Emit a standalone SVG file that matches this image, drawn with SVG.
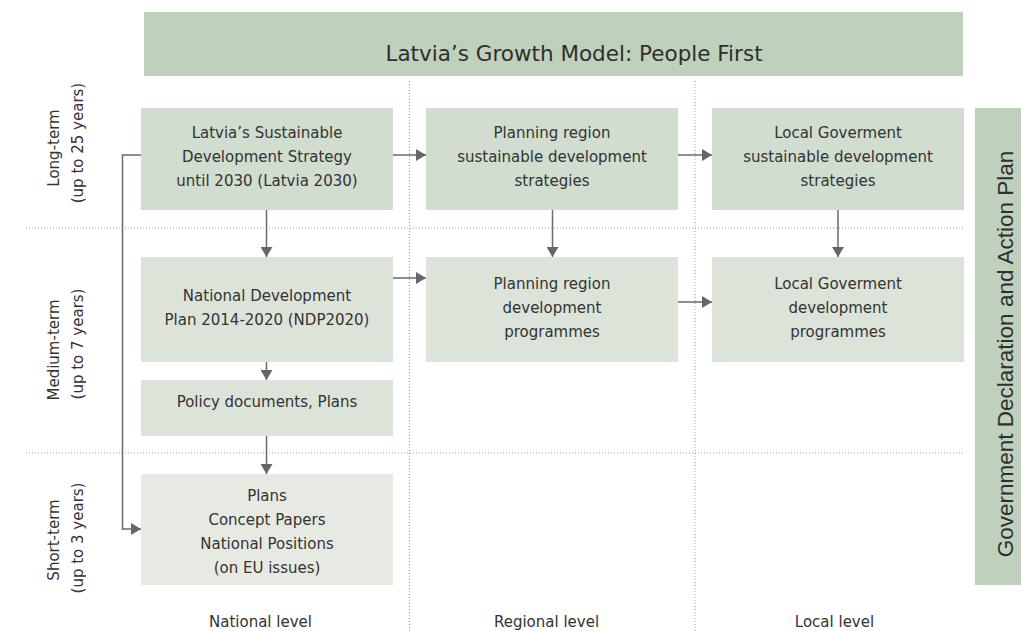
<svg xmlns="http://www.w3.org/2000/svg" width="1021" height="631" viewBox="0 0 1021 631">
<defs>
<marker id="ah" markerUnits="userSpaceOnUse" viewBox="0 0 10 12" refX="10" refY="6" markerWidth="10" markerHeight="12" orient="auto">
<path d="M0,0 L10,6 L0,12 Z" fill="#666"/>
</marker>
<style>
.t{font-family:"DejaVu Sans","Liberation Sans",sans-serif;font-size:15px;fill:#333;text-anchor:middle}
.lbl{font-family:"DejaVu Sans","Liberation Sans",sans-serif;font-size:15px;fill:#333;text-anchor:middle}
.dot{stroke:#9a9a9a;stroke-width:1;stroke-dasharray:1 2;fill:none}
.c{stroke:#6a6a6a;stroke-width:1.5;fill:none}
.ca{stroke:#6a6a6a;stroke-width:1.5;fill:none;marker-end:url(#ah)}
.long{fill:#d0ddcf}
.med{fill:#dce4da}
.short{fill:#e6eae3}
.band{fill:#bfd1bd}
</style>
</defs>
<rect width="1021" height="631" fill="#fff"/>

<g id="grid">
<line class="dot" x1="26" y1="228" x2="965" y2="228"/>
<line class="dot" x1="26" y1="453" x2="965" y2="453"/>
<line class="dot" x1="409.5" y1="81" x2="409.5" y2="631"/>
<line class="dot" x1="695" y1="81" x2="695" y2="631"/>
</g>

<g id="banner">
<rect class="band" x="144" y="12" width="819" height="64"/>
<text x="574" y="61" style="font-family:'DejaVu Sans','Liberation Sans',sans-serif;font-size:21.5px;fill:#2f2f2f;text-anchor:middle">Latvia’s Growth Model: People First</text>
</g>

<g id="gov-declaration">
<rect class="band" x="975" y="108" width="46" height="477"/>
<text transform="translate(1012.5,354) rotate(-90)" style="font-family:'Liberation Sans',Arial,sans-serif;font-size:22.5px;fill:#2f2f2f;text-anchor:middle">Government Declaration and Action Plan</text>
</g>

<g id="row-labels">
<text class="lbl" transform="translate(59,148) rotate(-90)">Long-term</text>
<text class="lbl" transform="translate(83,143) rotate(-90)">(up to 25 years)</text>
<text class="lbl" transform="translate(59,350) rotate(-90)">Medium-term</text>
<text class="lbl" transform="translate(83,344) rotate(-90)">(up to 7 years)</text>
<text class="lbl" transform="translate(59,540) rotate(-90)">Short-term</text>
<text class="lbl" transform="translate(83,538) rotate(-90)">(up to 3 years)</text>
</g>

<g id="col-labels">
<text class="lbl" x="260.5" y="627">National level</text>
<text class="lbl" x="546.5" y="627">Regional level</text>
<text class="lbl" x="834.5" y="627">Local level</text>
</g>

<g id="latvia2030">
<rect class="long" x="141" y="108" width="252" height="102"/>
<text class="t" x="267" y="138">Latvia’s Sustainable</text>
<text class="t" x="267" y="162">Development Strategy</text>
<text class="t" x="267" y="186">until 2030 (Latvia 2030)</text>
</g>

<g id="region-strategies">
<rect class="long" x="426" y="108" width="252" height="102"/>
<text class="t" x="552" y="138">Planning region</text>
<text class="t" x="552" y="162">sustainable development</text>
<text class="t" x="552" y="186">strategies</text>
</g>

<g id="local-strategies">
<rect class="long" x="712" y="108" width="252" height="102"/>
<text class="t" x="838" y="138">Local Goverment</text>
<text class="t" x="838" y="162">sustainable development</text>
<text class="t" x="838" y="186">strategies</text>
</g>

<g id="ndp2020">
<rect class="med" x="141" y="257" width="252" height="105"/>
<text class="t" x="267" y="301">National Development</text>
<text class="t" x="267" y="325">Plan 2014-2020 (NDP2020)</text>
</g>

<g id="region-programmes">
<rect class="med" x="426" y="257" width="252" height="105"/>
<text class="t" x="552" y="288.5">Planning region</text>
<text class="t" x="552" y="312.5">development</text>
<text class="t" x="552" y="336.5">programmes</text>
</g>

<g id="local-programmes">
<rect class="med" x="712" y="257" width="252" height="105"/>
<text class="t" x="838" y="288.5">Local Goverment</text>
<text class="t" x="838" y="312.5">development</text>
<text class="t" x="838" y="336.5">programmes</text>
</g>

<g id="policy-documents">
<rect class="med" x="141" y="380" width="252" height="56"/>
<text class="t" x="267" y="407">Policy documents, Plans</text>
</g>

<g id="short-term-plans">
<rect class="short" x="141" y="474" width="252" height="111"/>
<text class="t" x="267" y="501">Plans</text>
<text class="t" x="267" y="525">Concept Papers</text>
<text class="t" x="267" y="549">National Positions</text>
<text class="t" x="267" y="573">(on EU issues)</text>
</g>

<g id="connectors">
<line class="ca" x1="393" y1="155" x2="426" y2="155"/>
<line class="ca" x1="678" y1="155" x2="712" y2="155"/>
<line class="ca" x1="266.5" y1="210" x2="266.5" y2="257"/>
<line class="ca" x1="552.5" y1="210" x2="552.5" y2="257"/>
<line class="ca" x1="838" y1="210" x2="838" y2="257"/>
<line class="ca" x1="393" y1="278" x2="426" y2="278"/>
<line class="ca" x1="678" y1="302" x2="712" y2="302"/>
<line class="ca" x1="266.5" y1="362" x2="266.5" y2="380"/>
<line class="ca" x1="266.5" y1="436" x2="266.5" y2="474"/>
<path class="ca" d="M141,155 H122.5 V529 H141"/>
</g>
</svg>
